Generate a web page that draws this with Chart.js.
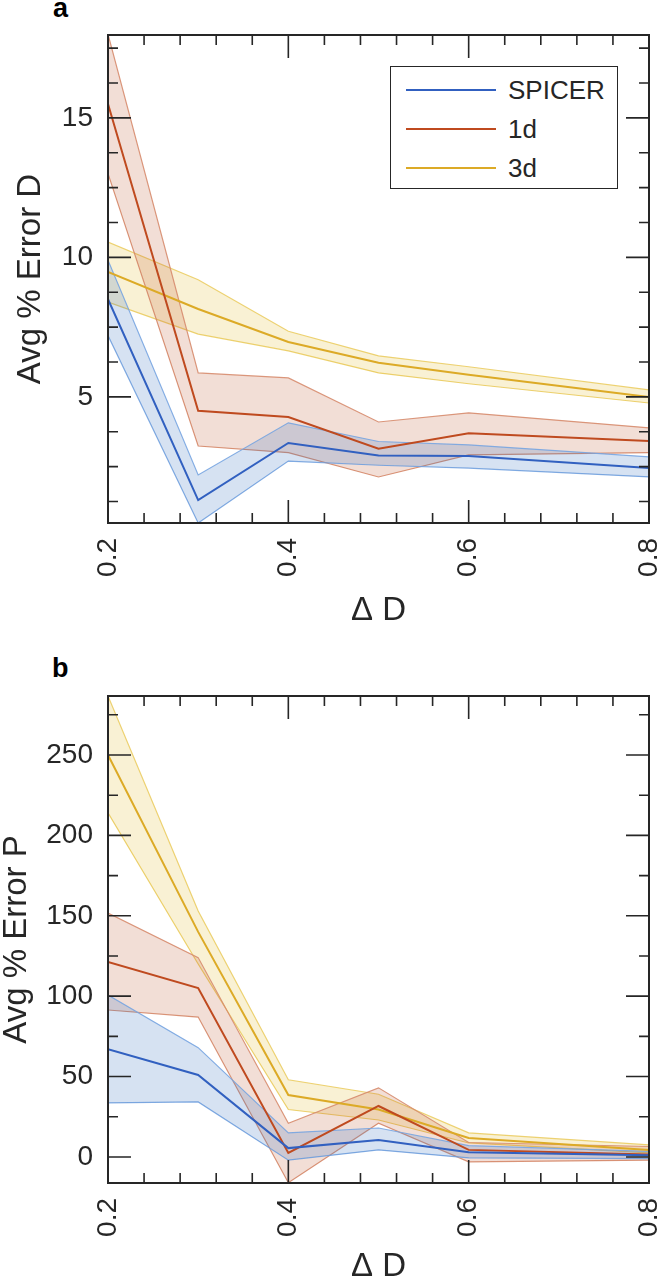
<!DOCTYPE html>
<html>
<head>
<meta charset="utf-8">
<script src="https://cdn.jsdelivr.net/npm/chart.js@4.4.1/dist/chart.umd.min.js"></script>
<style>
  body { margin: 0; background: #fff; }
  #wrap { position: relative; width: 668px; height: 1283px; font-family: "Liberation Sans", Arial, sans-serif; color: #262626; }
  .panel-label { position: absolute; font-weight: bold; font-size: 27px; line-height: 27px; color: #000; }
  .cv { position: absolute; left: 0; }
  #legend { position: absolute; left: 390px; top: 66px; width: 226px; height: 121px; border: 1.5px solid #262626; background: #fff; }
  .row { position: absolute; left: 0; height: 30px; width: 226px; }
  .swatch { position: absolute; left: 15px; width: 90px; height: 2px; top: 14px; }
  .row span { position: absolute; left: 117px; top: 0; font-size: 26px; line-height: 30px; }
</style>
</head>
<body>
<div id="wrap">
  <div class="panel-label" style="left:53px; top:-5px;">a</div>
  <div class="panel-label" style="left:52px; top:655px;">b</div>
  <canvas id="chartD" class="cv" style="top:0" width="668" height="640"></canvas>
  <canvas id="chartP" class="cv" style="top:640px" width="668" height="643"></canvas>
  <div id="legend"></div>
</div>
<script>
// x positions (Delta D)
const deltaD = [0.2, 0.3, 0.4, 0.5, 0.6, 0.8];
const xTicks = [0.2, 0.4, 0.6, 0.8];

// panel a: Avg % Error D (mean, upper, lower)
const spicerD   = [8.5, 1.3, 3.35, 2.9, 2.88, 2.45];
const spicerDHi = [9.9, 2.2, 4.07, 3.4, 3.28, 2.85];
const spicerDLo = [7.2, 0.48, 2.7, 2.55, 2.45, 2.13];
const oneDD     = [15.5, 4.5, 4.28, 3.14, 3.7, 3.42];
const oneDDHi   = [18.0, 5.86, 5.68, 4.1, 4.43, 3.89];
const oneDDLo   = [13.0, 3.24, 3.0, 2.13, 2.92, 3.0];
const threeDD   = [9.48, 8.15, 6.97, 6.22, 5.79, 5.0];
const threeDDHi = [10.55, 9.2, 7.35, 6.47, 6.08, 5.25];
const threeDDLo = [8.4, 7.25, 6.65, 5.86, 5.47, 4.78];
const yTicksD = [5, 10, 15];

// panel b: Avg % Error P
const spicerP   = [67, 51, 5.5, 10.5, 3, 1];
const spicerPHi = [100.7, 68, 15, 18, 7, 3.5];
const spicerPLo = [33.6, 34.2, -2, 4.4, -0.6, -1];
const oneDP     = [121.3, 105, 2.5, 31.7, 4.4, 1.5];
const oneDPHi   = [151.7, 124, 21, 43, 9, 6.5];
const oneDPLo   = [91.4, 87, -16, 21, -3, -2];
const threeDP   = [250, 140, 38.5, 29.5, 11.8, 4.4];
const threeDPHi = [286.7, 153, 48, 39, 15, 7.5];
const threeDPLo = [214, 120, 29.5, 23, 8.7, 2.5];
const yTicksP = [0, 50, 100, 150, 200, 250];

const seriesNames = ['SPICER', '1d', '3d'];
const lineColors = ['#3160c0', '#bf4a1f', '#dcaa26'];
const fillColors = ['rgba(50,110,190,0.2)', 'rgba(190,90,50,0.2)', 'rgba(225,185,40,0.2)'];
const edgeColors = ['rgba(120,165,225,0.9)', 'rgba(215,140,110,0.9)', 'rgba(235,205,100,0.9)'];

const textColor = '#262626';
const fontFam = '"Liberation Sans", Arial, sans-serif';

function pts(arr) {
  return arr.map((v, i) => ({ x: deltaD[i], y: v }));
}

function band(k, mean, hi, lo) {
  return [
    { label: seriesNames[k] + ' hi', data: pts(hi), borderColor: edgeColors[k], borderWidth: 1.2,
      backgroundColor: fillColors[k], fill: '+1', pointRadius: 0, tension: 0, order: 2 },
    { label: seriesNames[k] + ' lo', data: pts(lo), borderColor: edgeColors[k], borderWidth: 1.2,
      fill: false, pointRadius: 0, tension: 0, order: 2 },
    { label: seriesNames[k], data: pts(mean), borderColor: lineColors[k], borderWidth: 2,
      fill: false, pointRadius: 0, tension: 0, order: 1 }
  ];
}

// box round the plot with inward ticks on all four sides, like the original
const frameTicks = {
  id: 'frameTicks',
  afterDatasetsDraw(chart, args, opts) {
    const { ctx, chartArea: a, scales: { x, y } } = chart;
    const minors = (sc, step) => {
      const out = [];
      const k0 = Math.ceil(sc.min / step - 1e-9), k1 = Math.floor(sc.max / step + 1e-9);
      for (let k = k0; k <= k1; k++) out.push(k * step);
      return out;
    };
    ctx.save();
    ctx.strokeStyle = textColor;
    ctx.lineWidth = 1.6;
    ctx.beginPath();
    const xTick = (v, len) => {
      const px = x.getPixelForValue(v);
      ctx.moveTo(px, a.bottom); ctx.lineTo(px, a.bottom - len);
      ctx.moveTo(px, a.top); ctx.lineTo(px, a.top + len);
    };
    const yTick = (v, len) => {
      const py = y.getPixelForValue(v);
      ctx.moveTo(a.left, py); ctx.lineTo(a.left + len, py);
      ctx.moveTo(a.right, py); ctx.lineTo(a.right - len, py);
    };
    minors(x, opts.xStep).forEach(v => xTick(v, 10));
    minors(y, opts.yStep).forEach(v => yTick(v, 10));
    x.ticks.forEach(t => xTick(t.value, 23));
    y.ticks.forEach(t => yTick(t.value, 23));
    ctx.stroke();
    ctx.lineWidth = 2;
    ctx.strokeRect(a.left, a.top, a.right - a.left, a.bottom - a.top);
    ctx.restore();
  }
};

function makeChart(id, cfg) {
  return new Chart(document.getElementById(id), {
    type: 'line',
    data: { datasets: cfg.datasets },
    options: {
      responsive: false,
      animation: false,
      layout: { padding: { top: cfg.padTop, right: 19, bottom: 0, left: 0 } },
      plugins: {
        legend: { display: false },
        tooltip: { enabled: false },
        frameTicks: { xStep: 0.04, yStep: cfg.yStep }
      },
      scales: {
        x: {
          type: 'linear', min: 0.2, max: 0.8,
          afterBuildTicks: s => { s.ticks = xTicks.map(v => ({ value: v })); },
          afterFit: s => { s.height = cfg.xAxisH; s.paddingLeft = 0; s.paddingRight = 0; },
          grid: { display: false, drawTicks: false },
          border: { display: false },
          ticks: { minRotation: 90, maxRotation: 90, padding: 15, color: textColor,
                   font: { family: fontFam, size: 28 }, callback: v => Number(v).toFixed(1) },
          title: { display: true, text: 'Δ D', color: textColor,
                   font: { family: fontFam, size: 33, lineHeight: 1 },
                   padding: { top: 0, bottom: cfg.xTitlePad } }
        },
        y: {
          type: 'linear', min: cfg.yMin, max: cfg.yMax,
          afterBuildTicks: s => { s.ticks = cfg.yTicks.map(v => ({ value: v })); },
          afterFit: s => { s.width = 108; s.paddingTop = 0; s.paddingBottom = 0; },
          grid: { display: false, drawTicks: false },
          border: { display: false },
          ticks: { padding: 15, color: textColor, font: { family: fontFam, size: 28 },
                   callback: v => String(v) },
          title: { display: true, text: cfg.yTitle, color: textColor,
                   font: { family: fontFam, size: 33, lineHeight: 1 },
                   padding: { top: cfg.yTitlePad, bottom: 0 } }
        }
      }
    },
    plugins: [frameTicks]
  });
}

makeChart('chartD', {
  datasets: [
    ...band(0, spicerD, spicerDHi, spicerDLo),
    ...band(1, oneDD, oneDDHi, oneDDLo),
    ...band(2, threeDD, threeDDHi, threeDDLo)
  ],
  padTop: 35, xAxisH: 117, xTitlePad: 13,
  yMin: 0.48, yMax: 17.97, yStep: 1.25, yTicks: yTicksD,
  yTitle: 'Avg % Error D', yTitlePad: 14
});

makeChart('chartP', {
  datasets: [
    ...band(0, spicerP, spicerPHi, spicerPLo),
    ...band(1, oneDP, oneDPHi, oneDPLo),
    ...band(2, threeDP, threeDPHi, threeDPLo)
  ],
  padTop: 56, xAxisH: 100, xTitlePad: 0,
  yMin: -16.2, yMax: 286.7, yStep: 25, yTicks: yTicksP,
  yTitle: 'Avg % Error P', yTitlePad: 0
});

// legend box inside panel a
const legend = document.getElementById('legend');
seriesNames.forEach((name, i) => {
  const row = document.createElement('div');
  row.className = 'row';
  row.style.top = (8 + i * 39) + 'px';
  row.innerHTML = `<div class="swatch" style="background:${lineColors[i]}"></div><span>${name}</span>`;
  legend.appendChild(row);
});
</script>
</body>
</html>
